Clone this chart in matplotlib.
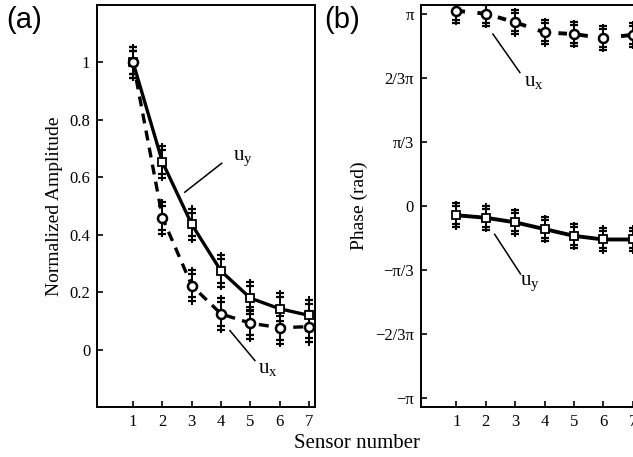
import numpy as np
import matplotlib
matplotlib.use("Agg")
import matplotlib.pyplot as plt

plt.rcParams['font.family'] = ['Liberation Serif', 'DejaVu Serif']
plt.rcParams['mathtext.fontset'] = 'custom'
plt.rcParams['mathtext.rm'] = 'Liberation Serif'
plt.rcParams['mathtext.it'] = 'Liberation Serif'

sensors = [1, 2, 3, 4, 5, 6, 7]

# (a) normalized amplitude
amp_uy = [1.0, 0.653, 0.436, 0.273, 0.179, 0.142, 0.119]
amp_ux = [1.0, 0.459, 0.223, 0.124, 0.092, 0.076, 0.080]
amp_err = 0.055

# (b) phase, in units of pi
phase_ux = [1.015, 1.0, 0.955, 0.903, 0.894, 0.873, 0.890]
phase_uy = [-0.048, -0.061, -0.085, -0.12, -0.155, -0.174, -0.174]
phase_err = 0.062

amp_ticks = [0, 0.2, 0.4, 0.6, 0.8, 1]
amp_ticklabels = ['0', '0.2', '0.4', '0.6', '0.8', '1']
phase_ticks = [1, 2 / 3, 1 / 3, 0, -1 / 3, -2 / 3, -1]
phase_ticklabels = ['π', '2/3π', 'π/3', '0', '−π/3', '−2/3π', '−π']


def draw_errors(ax, x, y, e):
    x = np.asarray(x)
    y = np.asarray(y)
    ax.vlines(x, y - 1.2 * e, y + 1.2 * e, color='k', lw=1.4, zorder=2)
    for f in (0.75, 1.0):
        ax.plot(x, y + f * e, ls='none', marker='_', ms=6, mew=1.6, color='k', zorder=2)
        ax.plot(x, y - f * e, ls='none', marker='_', ms=6, mew=1.6, color='k', zorder=2)


def style_axes(ax):
    for s in ax.spines.values():
        s.set_linewidth(1.4)
    ax.tick_params(direction='in', length=4, width=1.2, labelsize=12,
                   top=False, right=False, pad=5)
    ax.set_xticks(sensors)
    ax.set_xlim(-0.22, 7.2)


fig = plt.figure(figsize=(6.33, 4.57), dpi=100)

# ---- panel (a)
ax1 = fig.add_axes([0.1537, 0.1094, 0.344, 0.8796])
style_axes(ax1)
ax1.set_ylim(-0.2, 1.2)
ax1.set_yticks(amp_ticks)
ax1.set_yticklabels(amp_ticklabels)
draw_errors(ax1, sensors, amp_uy, amp_err)
draw_errors(ax1, sensors, amp_ux, amp_err)
ax1.plot(sensors, amp_uy, '-', color='k', lw=2.4, marker='s', ms=5.5,
         mfc='white', mec='k', mew=1.3, zorder=3)
ax1.plot(sensors, amp_ux, color='k', lw=2.4, ls=(0, (3, 2.2)), marker='o', ms=6.5,
         mfc='white', mec='k', mew=1.8, zorder=3)
ax1.plot([2.76, 4.02], [0.548, 0.649], color='k', lw=1.1)
ax1.text(4.4, 0.665, r'$\mathrm{u_y}$', fontsize=15, va='center', ha='left')
ax1.plot([4.30, 5.15], [0.066, -0.038], color='k', lw=1.1)
ax1.text(5.25, -0.065, r'$\mathrm{u_x}$', fontsize=15, va='center', ha='left')
ax1.set_ylabel('Normalized Amplitude', fontsize=14, labelpad=5)

# ---- panel (b), runs past the right edge like the original
ax2 = fig.add_axes([0.6646, 0.1094, 0.344, 0.8796])
style_axes(ax2)
ax2.set_ylim(-1.045, 1.045)
ax2.set_yticks(phase_ticks)
ax2.set_yticklabels(phase_ticklabels)
draw_errors(ax2, sensors, phase_ux, phase_err)
draw_errors(ax2, sensors, phase_uy, phase_err)
ax2.plot(sensors, phase_uy, '-', color='k', lw=2.8, marker='s', ms=5.5,
         mfc='white', mec='k', mew=1.3, zorder=3)
ax2.plot(sensors, phase_ux, color='k', lw=2.8, ls=(0, (2.2, 3.2)), marker='o', ms=6.5,
         mfc='white', mec='k', mew=1.8, zorder=3, clip_on=False)
ax2.plot([2.24, 3.16], [0.894, 0.694], color='k', lw=1.1)
ax2.text(3.3, 0.645, r'$\mathrm{u_x}$', fontsize=15, va='center', ha='left')
ax2.plot([2.30, 3.18], [-0.147, -0.353], color='k', lw=1.1)
ax2.text(3.15, -0.40, r'$\mathrm{u_y}$', fontsize=15, va='center', ha='left')
ax2.set_ylabel('Phase (rad)', fontsize=14, labelpad=5)

fig.text(357 / 633, 1 - 443 / 457, 'Sensor number', fontsize=15,
         ha='center', va='center')
fig.text(6 / 633, 1 - 20 / 457, '(a)', fontsize=21, family='Liberation Sans',
         ha='left', va='center')
fig.text(324 / 633, 1 - 20 / 457, '(b)', fontsize=21, family='Liberation Sans',
         ha='left', va='center')

fig.savefig('out.png', dpi=100)
